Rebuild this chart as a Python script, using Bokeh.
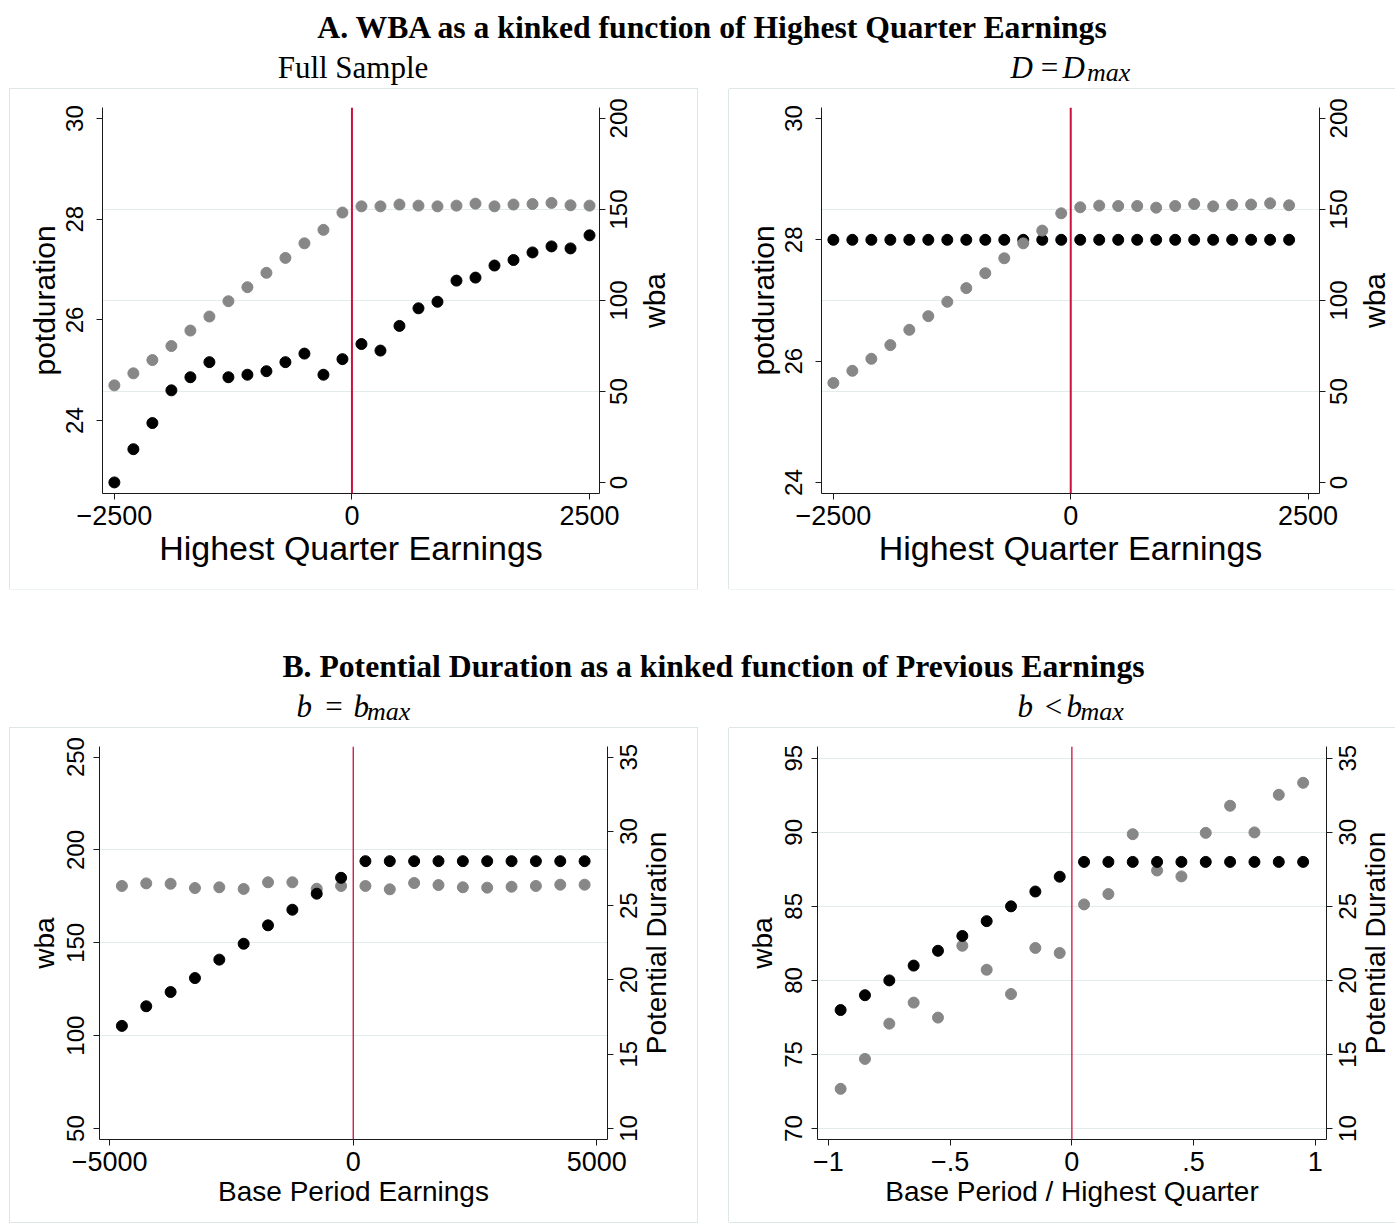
import math
from bokeh.plotting import figure
from bokeh.models import (Range1d, LinearAxis, FixedTicker, Grid, Span, Spacer,
                          CustomJSTickFormatter)
from bokeh.layouts import column, row
from bokeh.core.properties import value
from bokeh.embed import file_html
from bokeh.resources import INLINE

# ---------------- data ----------------
# Panel A, left: Full sample
hqe_bins_full = [-2500, -2300, -2100, -1900, -1700, -1500, -1300, -1100, -900, -700, -500, -300, -100,
                 100, 300, 500, 700, 900, 1100, 1300, 1500, 1700, 1900, 2100, 2300, 2500]
potdur_full = [22.77, 23.43, 23.95, 24.60, 24.86, 25.16, 24.86, 24.91, 24.98, 25.16, 25.33, 24.91, 25.22,
               25.52, 25.39, 25.88, 26.23, 26.36, 26.78, 26.84, 27.08, 27.19, 27.34, 27.46, 27.42, 27.68]
wba_full = [53.4, 60.0, 67.3, 75.0, 83.5, 91.2, 99.6, 107.3, 115.2, 123.4, 131.4, 138.8, 148.3,
            151.7, 151.7, 152.7, 152.1, 151.7, 152.1, 153.2, 151.7, 152.7, 153.0, 153.6, 152.3, 152.1]

# Panel A, right: D = Dmax
hqe_bins_dmax = [-2500, -2300, -2100, -1900, -1700, -1500, -1300, -1100, -900, -700, -500, -300, -100,
                 100, 300, 500, 700, 900, 1100, 1300, 1500, 1700, 1900, 2100, 2300]
potdur_dmax = [28, 28, 28, 28, 28, 28, 28, 28, 28, 28, 28, 28, 28,
               28, 28, 28, 28, 28, 28, 28, 28, 28, 28, 28, 28]
wba_dmax = [54.7, 61.4, 68.0, 75.5, 83.9, 91.4, 99.3, 106.8, 115.0, 123.2, 131.4, 138.4, 147.9,
            151.2, 152.1, 151.9, 151.9, 151.0, 151.9, 153.0, 151.7, 152.5, 152.7, 153.4, 152.3]

# Panel B, left: b = bmax
bpe_bins = [-4750, -4250, -3750, -3250, -2750, -2250, -1750, -1250, -750, -250,
            250, 750, 1250, 1750, 2250, 2750, 3250, 3750, 4250, 4750]
wba_bmax = [180.6, 182.0, 181.8, 179.5, 179.9, 179.0, 182.6, 182.6, 179.1, 180.6,
            180.6, 178.8, 182.2, 181.1, 179.9, 179.7, 180.2, 180.6, 181.3, 181.3]
pd_bmax = [16.91, 18.23, 19.19, 20.13, 21.37, 22.44, 23.68, 24.73, 25.81, 26.88,
           28, 28, 28, 28, 28, 28, 28, 28, 28, 28]

# Panel B, right: b < bmax
ratio_bins = [-0.95, -0.85, -0.75, -0.65, -0.55, -0.45, -0.35, -0.25, -0.15, -0.05,
              0.05, 0.15, 0.25, 0.35, 0.45, 0.55, 0.65, 0.75, 0.85, 0.95]
wba_blow = [72.68, 74.70, 77.08, 78.50, 77.49, 82.34, 80.72, 79.08, 82.19, 81.85,
            85.13, 85.83, 89.87, 87.42, 87.02, 89.96, 91.79, 89.99, 92.53, 93.34]
pd_blow = [18, 19, 20, 21, 22, 23, 24, 25, 26, 27,
           28, 28, 28, 28, 28, 28, 28, 28, 28, 28]

# ticks and tick labels
hqe_ticks = [-2500, 0, 2500]
hqe_tick_labels = ["\u22122500", "0", "2500"]
potdur_ticks = [24, 26, 28, 30]
potdur_tick_labels = ["24", "26", "28", "30"]
wba_a_ticks = [0, 50, 100, 150, 200]
wba_a_tick_labels = ["0", "50", "100", "150", "200"]
bpe_ticks = [-5000, 0, 5000]
bpe_tick_labels = ["\u22125000", "0", "5000"]
ratio_ticks = [-1, -0.5, 0, 0.5, 1]
ratio_tick_labels = ["\u22121", "\u2212.5", "0", ".5", "1"]
wba_b_ticks = [50, 100, 150, 200, 250]
wba_b_tick_labels = ["50", "100", "150", "200", "250"]
wba_c_ticks = [70, 75, 80, 85, 90, 95]
wba_c_tick_labels = ["70", "75", "80", "85", "90", "95"]
pd_ticks = [10, 15, 20, 25, 30, 35]
pd_tick_labels = ["10", "15", "20", "25", "30", "35"]

title_a = "A. WBA as a kinked function of Highest Quarter Earnings"
title_b = "B. Potential Duration as a kinked function of Previous Earnings"

# ---------------- style ----------------
SANS = "Liberation Sans"
SERIF = "Liberation Serif"
GRAY = "#878787"
BLACK = "#000000"
RED = "#cc1040"
GRIDC = "#e3ecec"
BOXC = "#dde7e7"
AXIS = "#1a1a1a"
VERT = math.pi / 2


def no_align(fig):
    try:
        fig.frame_align = False
    except Exception:
        pass


def tick_formatter(tick_vals, tick_labs):
    return CustomJSTickFormatter(args=dict(tvals=tick_vals, tlabs=tick_labs), code="""
        for (let i = 0; i < tvals.length; i++) {
            if (Math.abs(tvals[i] - tick) < 1e-9) { return tlabs[i]; }
        }
        return "";
    """)


def style_axis(ax, tick_vals, tick_labs, tick_size, title, title_size, orient=None,
               label_standoff=2, title_standoff=2):
    ax.ticker = FixedTicker(ticks=tick_vals, minor_ticks=[])
    ax.formatter = tick_formatter(tick_vals, tick_labs)
    ax.axis_line_color = AXIS
    ax.axis_line_width = 1
    ax.major_tick_line_color = AXIS
    ax.major_tick_line_width = 1
    ax.major_tick_out = 6
    ax.major_tick_in = 0
    ax.minor_tick_line_color = None
    ax.major_label_text_font = SANS
    ax.major_label_text_font_size = tick_size
    ax.major_label_text_color = BLACK
    ax.major_label_standoff = label_standoff
    if orient is not None:
        ax.major_label_orientation = orient
    if title:
        ax.axis_label = title
    ax.axis_label_text_font = SANS
    ax.axis_label_text_font_size = title_size
    ax.axis_label_text_font_style = "normal"
    ax.axis_label_text_color = BLACK
    ax.axis_label_standoff = title_standoff


def make_panel(w, h, borders, xr, ylr, yrr, xt, xtl, ylt, yltl, yrt, yrtl,
               grid_ticks, grid_right, xlab, ylab, yrlab, xlab_size, ylab_size, series,
               red_w, shadow, x_std, yl_std, r_tick_off, r_title_off):
    L, R, T, B = borders
    p = figure(width=w, height=h, output_backend="svg", toolbar_location=None,
               x_range=Range1d(*xr), y_range=Range1d(*ylr),
               min_border_left=L, min_border_right=R,
               min_border_top=T, min_border_bottom=B)
    no_align(p)
    p.extra_y_ranges = {"right": Range1d(*yrr)}
    p.outline_line_color = None
    p.background_fill_color = "white"
    p.border_fill_color = "white"
    p.xgrid.visible = False
    p.ygrid.visible = False

    xa = p.xaxis[0]
    ya = p.yaxis[0]
    yra = LinearAxis(y_range_name="right")
    p.add_layout(yra, "right")

    style_axis(xa, xt, xtl, "27px", xlab, xlab_size, label_standoff=x_std[0],
               title_standoff=x_std[1])
    style_axis(ya, ylt, yltl, "24px", ylab, ylab_size, orient="vertical",
               label_standoff=yl_std[0], title_standoff=yl_std[1])
    # right axis keeps its line and ticks here; its texts go on the overlay below
    style_axis(yra, yrt, ["" for _ in yrt], "1px", "", "1px",
               label_standoff=0, title_standoff=0)

    g = Grid(dimension=1, ticker=FixedTicker(ticks=grid_ticks, minor_ticks=[]),
             grid_line_color=GRIDC, grid_line_width=1)
    if grid_right:
        g.y_range_name = "right"
    p.add_layout(g)
    p.add_layout(Span(location=0, dimension="height", line_color=RED, line_width=red_w))
    for xs, ys, rng, color in series:
        p.scatter(x=xs, y=ys, size=11, fill_color=color, line_color=color,
                  y_range_name=rng)
    p.styles = {"box-shadow": shadow}

    # transparent overlay of the same size: right-axis texts, read bottom to top
    k = (h - T - B) / float(yrr[1] - yrr[0])
    s = figure(width=w, height=h, output_backend="svg", toolbar_location=None,
               x_range=Range1d(0, w), y_range=Range1d(yrr[0] - B / k, yrr[1] + T / k),
               x_axis_location=None, y_axis_location=None, min_border=0)
    no_align(s)
    s.outline_line_color = None
    s.background_fill_color = None
    s.border_fill_color = None
    s.xgrid.visible = False
    s.ygrid.visible = False
    s.margin = (0, 0, 0, -w)
    axis_x = w - R
    s.text(x=[axis_x + r_tick_off for _ in yrt], y=yrt, text=yrtl, angle=VERT,
           text_align="center", text_baseline="top", text_font=value(SANS),
           text_font_size="24px", text_color=BLACK)
    s.text(x=[axis_x + r_title_off], y=[(yrr[0] + yrr[1]) / 2.0], text=[yrlab], angle=VERT,
           text_align="center", text_baseline="top", text_font=value(SANS),
           text_font_size=ylab_size, text_color=BLACK)
    return [p, s]


def make_header(w, h):
    p = figure(width=w, height=h, output_backend="svg", toolbar_location=None,
               x_range=Range1d(0, w), y_range=Range1d(0, h),
               x_axis_location=None, y_axis_location=None,
               min_border=0)
    no_align(p)
    p.outline_line_color = None
    p.xgrid.visible = False
    p.ygrid.visible = False
    return p


def put_text(p, x, y, txt, size, style="normal", align="left"):
    p.text(x=[x], y=[y], text=[txt], text_font=value(SERIF), text_font_size=size,
           text_font_style=style, text_align=align, text_baseline="alphabetic",
           text_color=BLACK)


FULL_BOX = "0 0 0 1px " + BOXC
CUT_BOX = "-1px 0 0 0 {c}, 0 -1px 0 0 {c}, 0 1px 0 0 {c}".format(c=BOXC)

# ---------------- headers ----------------
head_a = make_header(1395, 89)
put_text(head_a, 713, 61.8, title_a, "31.7px", "bold", "center")
put_text(head_a, 352.5, 22.3, "Full Sample", "31px", "normal", "center")
put_text(head_a, 1010, 22.3, "D", "31px", "italic")
put_text(head_a, 1049, 22.3, "=", "31px", "normal", "center")
put_text(head_a, 1062, 22.3, "D", "31px", "italic")
put_text(head_a, 1086.5, 17.4, "max", "26px", "italic")

head_b = make_header(1395, 139)
put_text(head_b, 713, 61.8, title_b, "31.7px", "bold", "center")
put_text(head_b, 296, 22, "b", "31px", "italic")
put_text(head_b, 333.5, 22, "=", "31px", "normal", "center")
put_text(head_b, 353, 22, "b", "31px", "italic")
put_text(head_b, 366.5, 17.4, "max", "26px", "italic")
put_text(head_b, 1017, 22, "b", "31px", "italic")
put_text(head_b, 1053, 22, "<", "31px", "normal", "center")
put_text(head_b, 1066, 22, "b", "31px", "italic")
put_text(head_b, 1080, 17.4, "max", "26px", "italic")

# ---------------- panels ----------------
p1 = make_panel(687, 500, (92, 98, 18, 96), (-2625, 2605), (22.55, 30.22), (-6, 206),
                hqe_ticks, hqe_tick_labels, potdur_ticks, potdur_tick_labels,
                wba_a_ticks, wba_a_tick_labels, [50, 100, 150], True,
                "Highest Quarter Earnings", "potduration", "wba", "34px", "30px",
                [(hqe_bins_full, potdur_full, "default", BLACK),
                 (hqe_bins_full, wba_full, "right", GRAY)], 2, FULL_BOX,
                (6, 1), (13, 3), 10, 38)

p2 = make_panel(666, 500, (92, 76, 18, 96), (-2625, 2620), (23.82, 30.18), (-6, 206),
                hqe_ticks, hqe_tick_labels, potdur_ticks, potdur_tick_labels,
                wba_a_ticks, wba_a_tick_labels, [50, 100, 150], True,
                "Highest Quarter Earnings", "potduration", "wba", "34px", "30px",
                [(hqe_bins_dmax, potdur_dmax, "default", BLACK),
                 (hqe_bins_dmax, wba_dmax, "right", GRAY)], 2, CUT_BOX,
                (6, 1), (13, 3), 10, 38)

p3 = make_panel(687, 494, (89, 90, 18, 83), (-5210, 5220), (44.1, 255.7), (9.26, 35.72),
                bpe_ticks, bpe_tick_labels, wba_b_ticks, wba_b_tick_labels,
                pd_ticks, pd_tick_labels, [100, 150, 200], False,
                "Base Period Earnings", "wba", "Potential Duration", "28px", "28px",
                [(bpe_bins, wba_bmax, "default", GRAY),
                 (bpe_bins, pd_bmax, "right", BLACK)], 1.3, FULL_BOX,
                (6, 2), (9, 5), 12.5, 33)

p4 = make_panel(666, 494, (88, 69, 18, 83), (-1.045, 1.046), (69.26, 95.79), (9.26, 35.79),
                ratio_ticks, ratio_tick_labels, wba_c_ticks, wba_c_tick_labels,
                pd_ticks, pd_tick_labels, [70, 75, 80, 85, 90, 95], False,
                "Base Period / Highest Quarter", "wba", "Potential Duration", "28px", "28px",
                [(ratio_bins, wba_blow, "default", GRAY),
                 (ratio_bins, pd_blow, "right", BLACK)], 1.3, CUT_BOX,
                (6, 2), (9, 5), 12.5, 33)

layout = column(
    head_a,
    row(Spacer(width=10, height=500), *p1, Spacer(width=32, height=500), *p2),
    head_b,
    row(Spacer(width=10, height=494), *p3, Spacer(width=32, height=494), *p4),
)

open("out.html", "w").write(file_html(layout, INLINE))
